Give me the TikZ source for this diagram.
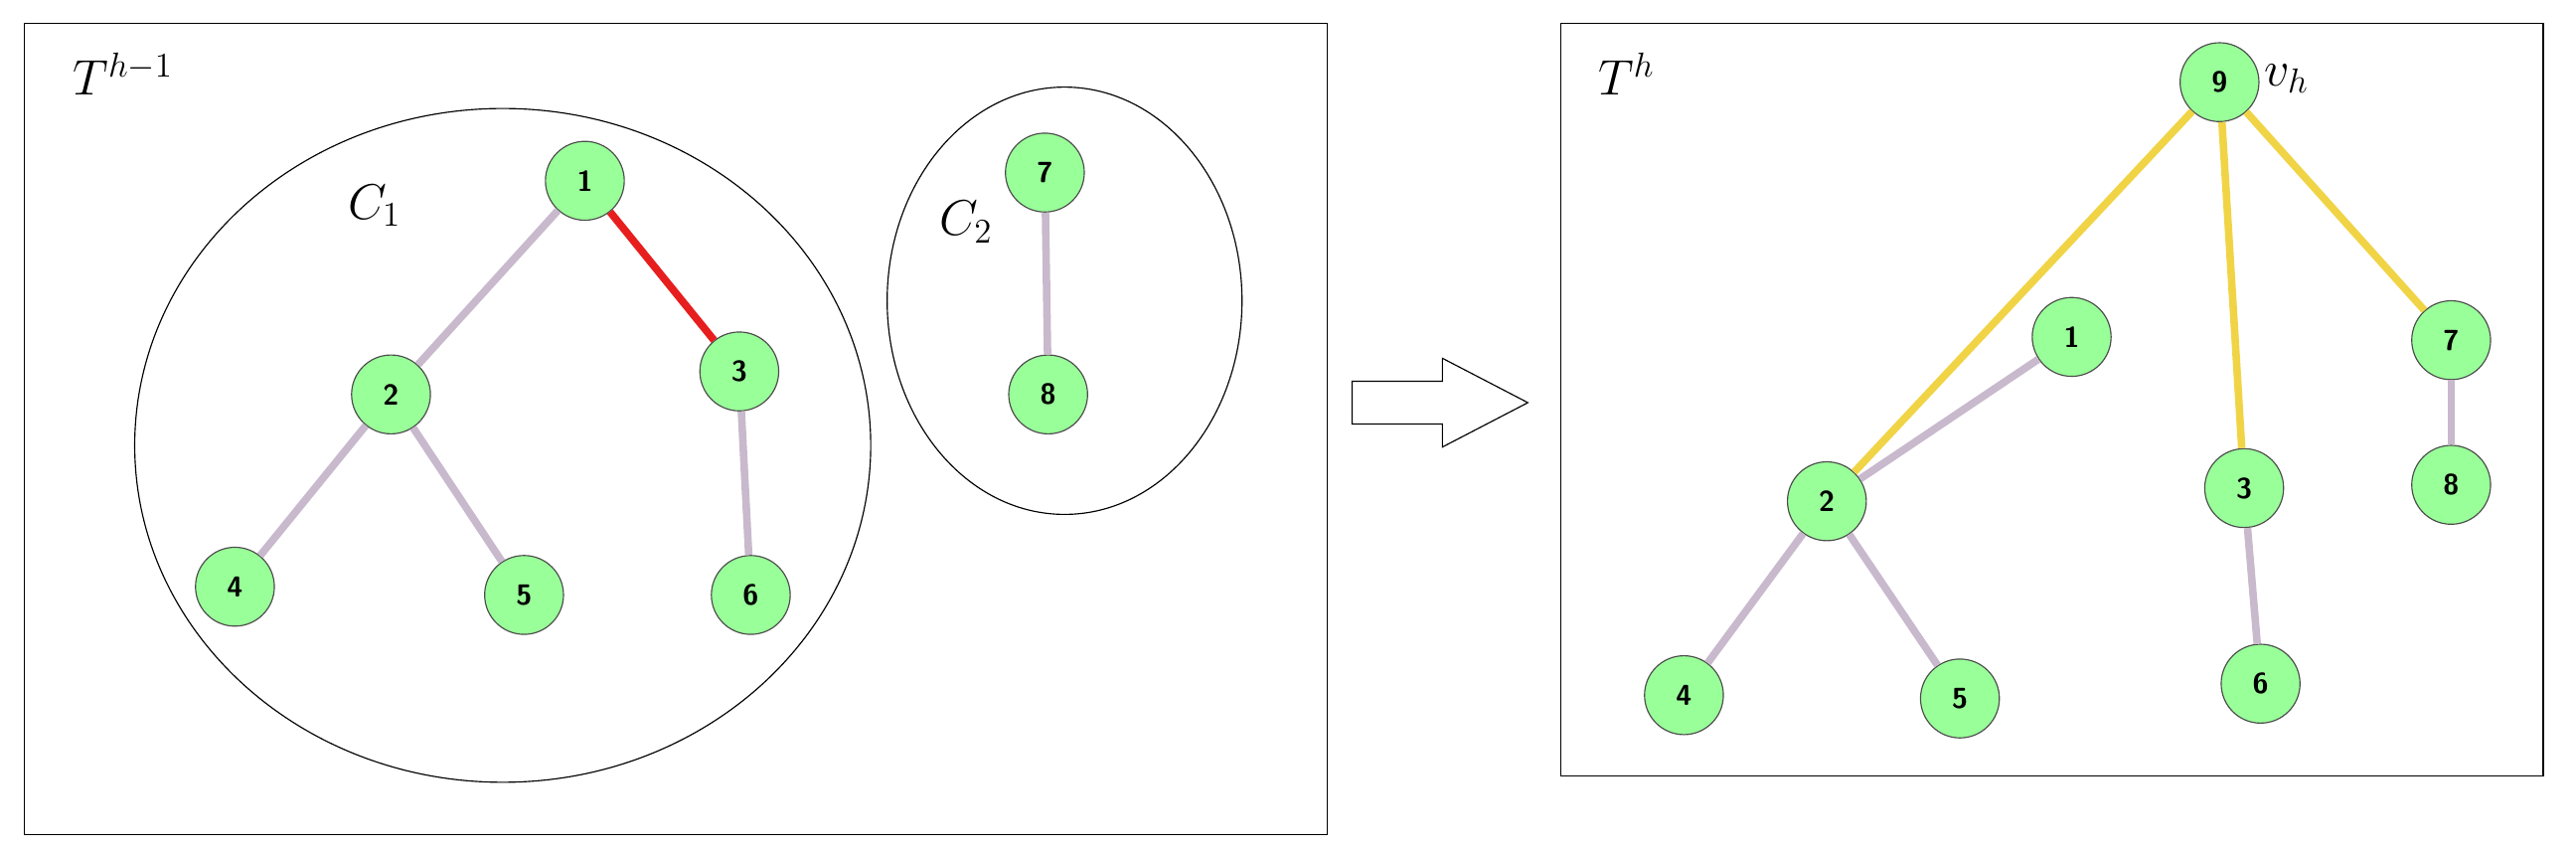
\documentclass[tikz,border=0pt]{standalone}
\begin{document}
\begin{tikzpicture}[x=0.02cm, y=-0.02cm,
    vert/.style={circle, draw=black!70, fill=green!40!white, minimum size=0.96cm, inner sep=0pt, font=\sffamily\bfseries\fontsize{10}{12}\selectfont},
    tedge/.style={line width=2.6pt, draw={rgb,255:red,200;green,185;blue,205}},
    cut/.style={line width=2.6pt, draw={rgb,255:red,230;green,30;blue,30}},
    newedge/.style={line width=2.6pt, draw={rgb,255:red,240;green,212;blue,70}},
    mlabel/.style={font=\fontsize{18}{20}\selectfont}
]
    \useasboundingbox (0,0) rectangle (1568,518);

    % Left tree T^{h-1}
    \draw (15,14) rectangle (808,508);
    \node[mlabel] (tl) at (75,45) {$T^{h-1}$};
    \draw (306,271) ellipse [x radius=224, y radius=205];
    \draw (648,183) ellipse [x radius=108, y radius=130];
    \node[mlabel] (c1) at (228,125) {$C_1$};
    \node[mlabel] (c2) at (588,135) {$C_2$};

    \node[vert] (a1) at (356,110) {1};
    \node[vert] (a2) at (238,240) {2};
    \node[vert] (a3) at (450,226) {3};
    \node[vert] (a4) at (143,357) {4};
    \node[vert] (a5) at (319,362) {5};
    \node[vert] (a6) at (457,362) {6};
    \node[vert] (a7) at (636,105) {7};
    \node[vert] (a8) at (638,240) {8};

    \draw[tedge] (a1) -- (a2);
    \draw[cut] (a1) -- (a3);
    \draw[tedge] (a2) -- (a4);
    \draw[tedge] (a2) -- (a5);
    \draw[tedge] (a3) -- (a6);
    \draw[tedge] (a7) -- (a8);

    % Arrow
    \draw[fill=white] (823,232) -- (878,232) -- (878,218) -- (930,245)
        -- (878,272) -- (878,258) -- (823,258) -- cycle;

    % Right tree T^h
    \draw (950,14) rectangle (1548,472);
    \node[mlabel] (tr) at (990,45) {$T^{h}$};

    \node[vert] (b9) at (1351,50) {9};
    \node[mlabel, right] (vh) at (1372,48) {$v_h$};
    \node[vert] (b1) at (1261,205) {1};
    \node[vert] (b2) at (1112,305) {2};
    \node[vert] (b3) at (1366,297) {3};
    \node[vert] (b4) at (1025,423) {4};
    \node[vert] (b5) at (1193,425) {5};
    \node[vert] (b6) at (1376,416) {6};
    \node[vert] (b7) at (1492,207) {7};
    \node[vert] (b8) at (1492,295) {8};

    \draw[newedge] (b9) -- (b2);
    \draw[newedge] (b9) -- (b3);
    \draw[newedge] (b9) -- (b7);
    \draw[tedge] (b1) -- (b2);
    \draw[tedge] (b2) -- (b4);
    \draw[tedge] (b2) -- (b5);
    \draw[tedge] (b3) -- (b6);
    \draw[tedge] (b7) -- (b8);
\end{tikzpicture}
\end{document}
